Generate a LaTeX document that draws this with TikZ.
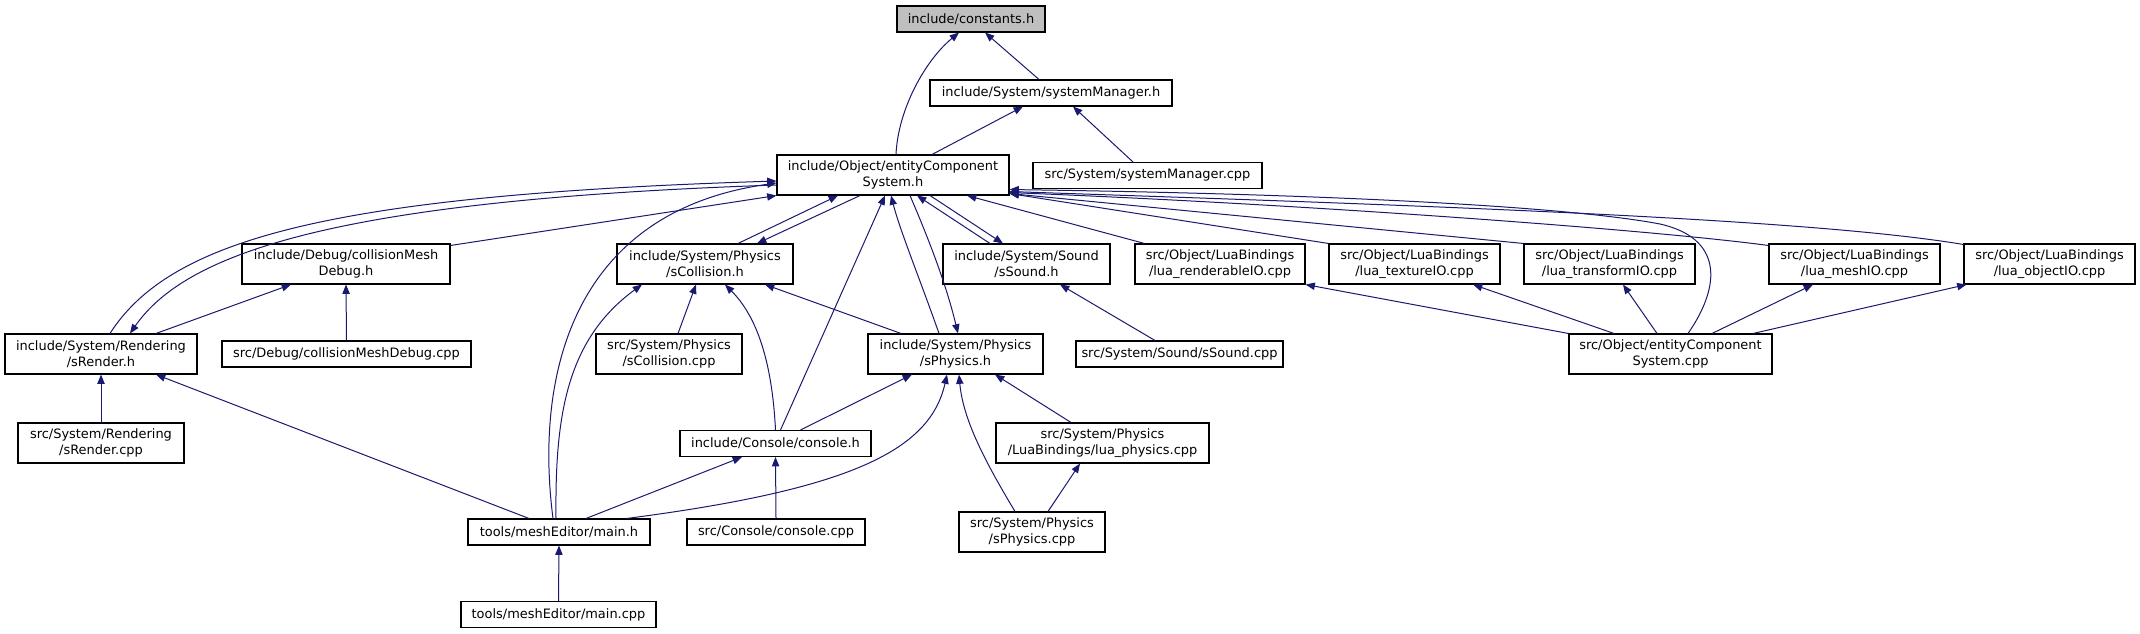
\documentclass[tikz,border=0pt]{standalone}
\usepackage{fontspec}
\setmainfont{DejaVu Sans}
\usetikzlibrary{arrows.meta,calc}
\definecolor{doxEdge}{RGB}{25,25,112}
\definecolor{doxRoot}{RGB}{191,191,191}

\begin{document}
\begin{tikzpicture}[x=0.75pt, y=-0.75pt,
    box/.style={draw=black, line width=0.8pt, fill=white, inner sep=0pt,
                minimum width=#1, minimum height=19.5pt, align=center,
                font=\fontsize{9.7}{11.6}\selectfont},
    dbl/.style={minimum height=30pt},
    arr/.style={-{Triangle[length=7pt,width=5.5pt]}, doxEdge, line width=0.75pt}
  ]
  \useasboundingbox (0,0) rectangle (2140,633);

  \node[box=111pt, fill=doxRoot] (constants) at (971,19) {include/constants.h};
  \node[box=181.5pt] (sysMgrH) at (1051,93) {include/System/systemManager.h};
  \node[box=174pt, dbl] (ecsH) at (893,175) {include/Object/entityComponent\\System.h};
  \node[box=171.75pt] (sysMgrCpp) at (1147.5,175.5) {src/System/systemManager.cpp};
  \node[box=156pt, dbl] (cmdH) at (346,264) {include/Debug/collisionMesh\\Debug.h};
  \node[box=132pt, dbl] (sCollH) at (705,264) {include/System/Physics\\/sCollision.h};
  \node[box=125.25pt, dbl] (sSoundH) at (1026.5,264) {include/System/Sound\\/sSound.h};
  \node[box=127.5pt, dbl] (luaRend) at (1220,264) {src/Object/LuaBindings\\/lua\_renderableIO.cpp};
  \node[box=128.25pt, dbl] (luaTex) at (1414.5,264) {src/Object/LuaBindings\\/lua\_textureIO.cpp};
  \node[box=128.25pt, dbl] (luaTrans) at (1609.5,264) {src/Object/LuaBindings\\/lua\_transformIO.cpp};
  \node[box=128.25pt, dbl] (luaMesh) at (1854.5,264) {src/Object/LuaBindings\\/lua\_meshIO.cpp};
  \node[box=128.25pt, dbl] (luaObj) at (2049.5,264) {src/Object/LuaBindings\\/lua\_objectIO.cpp};
  \node[box=144pt, dbl] (sRenderH) at (101,354) {include/System/Rendering\\/sRender.h};
  \node[box=186.75pt] (cmdCpp) at (346.5,354) {src/Debug/collisionMeshDebug.cpp};
  \node[box=109.5pt, dbl] (sCollCpp) at (669,354) {src/System/Physics\\/sCollision.cpp};
  \node[box=131.25pt, dbl] (sPhysH) at (955.5,354) {include/System/Physics\\/sPhysics.h};
  \node[box=155.25pt] (sSoundCpp) at (1179.5,354) {src/System/Sound/sSound.cpp};
  \node[box=152.25pt, dbl] (ecsCpp) at (1670.5,354) {src/Object/entityComponent\\System.cpp};
  \node[box=124.5pt, dbl] (sRenderCpp) at (101,443) {src/System/Rendering\\/sRender.cpp};
  \node[box=143.25pt] (consoleH) at (775.5,443.5) {include/Console/console.h};
  \node[box=159.75pt, dbl] (luaPhys) at (1102.5,443) {src/System/Physics\\/LuaBindings/lua\_physics.cpp};
  \node[box=136.5pt] (mainH) at (559,532) {tools/meshEditor/main.h};
  \node[box=133.5pt] (consoleCpp) at (776,532) {src/Console/console.cpp};
  \node[box=109.5pt, dbl] (sPhysCpp) at (1032,532) {src/System/Physics\\/sPhysics.cpp};
  \node[box=146.25pt] (mainCpp) at (558.5,614.5) {tools/meshEditor/main.cpp};
  \coordinate (ecsKnee) at (1660,224);

  % constants.h and systemManager.h
  \draw[arr] ($(ecsH.north)+(3,0)$) .. controls +(2,-45) and +(-34,28) .. ($(constants.south)+(-12,0)$);
  \draw[arr] ($(sysMgrH.north)+(-12,0)$) -- ($(constants.south)+(14,0)$);
  \draw[arr] ($(ecsH.north)+(39,0)$) -- ($(sysMgrH.south)+(-28,0)$);
  \draw[arr] ($(sysMgrCpp.north)+(-14.5,0)$) -- ($(sysMgrH.south)+(22,0)$);

  % entityComponentSystem.h
  \draw[arr] ($(sRenderH.north)+(9,0)$) .. controls +(60,-94) and +(-447,14) .. ($(ecsH.west)+(0,6)$);
  \draw[arr] ($(ecsH.west)+(0,10)$) .. controls +(-447,15) and +(55,-79) .. ($(sRenderH.north)+(29,0)$);
  \draw[arr] ($(cmdH.north east)+(0,2)$) -- (ecsH.south west);
  \draw[arr] ($(mainH.north)+(-6,0)$) .. controls +(-18,-139) and +(-207,29) .. ($(ecsH.west)+(0,8)$);
  \draw[arr] ($(sCollH.north)+(33,0)$) -- ($(ecsH.south)+(-55,0)$);
  \draw[arr] ($(ecsH.south)+(-33,0)$) -- ($(sCollH.north)+(52,0)$);
  \draw[arr] ($(consoleH.north)+(5,0)$) -- ($(ecsH.south)+(-8,0)$);
  \draw[arr] ($(sPhysH.north)+(-16.5,0)$) .. controls +(-19,-54) and +(9,35) .. ($(ecsH.south)+(-2,0)$);
  \draw[arr] ($(ecsH.south)+(17,0)$) .. controls +(15,35) and +(-13,-54) .. ($(sPhysH.north)+(2.5,0)$);
  \draw[arr] ($(sSoundH.north)+(-36.5,0)$) -- ($(ecsH.south)+(24,0)$);
  \draw[arr] ($(ecsH.south)+(37,0)$) -- ($(sSoundH.north)+(-23.5,0)$);
  \draw[arr] ($(luaRend.north west)+(10,0)$) -- ($(ecsH.south)+(74,0)$);
  \draw[arr] (luaTex.north west) -- ($(ecsH.south east)+(0,-2)$);
  \draw[arr] (luaTrans.north west) -- ($(ecsH.south east)+(0,-2)$);
  \draw[arr] ($(luaMesh.north west)+(0,2)$) .. controls +(-120,-16) and +(300,12) .. ($(ecsH.south east)+(0,-3)$);
  \draw[arr] ($(luaObj.north west)+(0,1)$) .. controls +(-150,-25) and +(450,15) .. ($(ecsH.south east)+(0,-4)$);
  \draw[arr] ($(ecsCpp.north)+(17.5,0)$) .. controls +(34,-49) and +(62,14) .. (ecsKnee)
             .. controls +(-100,-19) and +(291,4) .. ($(ecsH.south east)+(0,-6)$);

  % collisionMeshDebug.h and sRender.h
  \draw[arr] ($(sRenderH.north)+(55,0)$) -- ($(cmdH.south)+(-55,0)$);
  \draw[arr] (cmdCpp.north) -- (cmdH.south);
  \draw[arr] (sRenderCpp.north) -- (sRenderH.south);
  \draw[arr] ($(mainH.north)+(-30,0)$) -- ($(sRenderH.south)+(55,0)$);

  % sCollision.h and sSound.h
  \draw[arr] ($(mainH.north)+(-3,0)$) .. controls +(-1,-99) and +(-77,56) .. ($(sCollH.south)+(-63,0)$);
  \draw[arr] ($(sCollCpp.north)+(9,0)$) -- ($(sCollH.south)+(-9,0)$);
  \draw[arr] (consoleH.north) .. controls +(-3,-60) and +(35,35) .. ($(sCollH.south)+(20,0)$);
  \draw[arr] ($(sPhysH.north)+(-54.5,0)$) -- ($(sCollH.south)+(60,0)$);
  \draw[arr] ($(sSoundCpp.north)+(-24.5,0)$) -- ($(sSoundH.south)+(33.5,0)$);

  % sPhysics.h
  \draw[arr] ($(consoleH.north)+(25,0)$) -- ($(sPhysH.south)+(-43.5,0)$);
  \draw[arr] ($(mainH.north east)+(-24,0)$) .. controls +(224,-29) and +(-17,76) .. ($(sPhysH.south)+(-8.5,0)$);
  \draw[arr] ($(luaPhys.north)+(-31.5,0)$) -- ($(sPhysH.south)+(39.5,0)$);
  \draw[arr] ($(sPhysCpp.north)+(-17,0)$) .. controls +(-30,-50) and +(4,45) .. ($(sPhysH.south)+(3.5,0)$);
  \draw[arr] ($(sPhysCpp.north)+(16,0)$) -- ($(luaPhys.south)+(-22.5,0)$);

  % console.h and main.h
  \draw[arr] ($(mainH.north)+(27,0)$) -- ($(consoleH.south)+(-33.5,0)$);
  \draw[arr] (consoleCpp.north) -- (consoleH.south);
  \draw[arr] (mainCpp.north) -- (mainH.south);

  % lua bindings
  \draw[arr] (ecsCpp.north west) -- (luaRend.south east);
  \draw[arr] ($(ecsCpp.north)+(-56.5,0)$) -- ($(luaTex.south)+(58.5,0)$);
  \draw[arr] ($(ecsCpp.north)+(-13.5,0)$) -- ($(luaTrans.south)+(13.5,0)$);
  \draw[arr] ($(ecsCpp.north)+(41.5,0)$) -- ($(luaMesh.south)+(-41.5,0)$);
  \draw[arr] ($(ecsCpp.north)+(82.5,0)$) -- ($(luaObj.south west)+(3,0)$);
\end{tikzpicture}
\end{document}
